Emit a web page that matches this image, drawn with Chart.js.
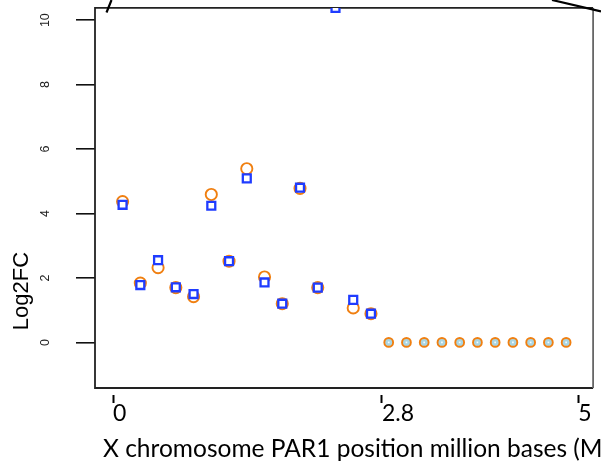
<!DOCTYPE html>
<html>
<head>
<meta charset="utf-8">
<script src="https://cdn.jsdelivr.net/npm/chart.js@4/dist/chart.umd.min.js"></script>
<style>
  html, body { margin: 0; padding: 0; background: #fff; }
  #wrap { width: 601px; height: 466px; }
</style>
</head>
<body>
<div id="wrap"><canvas id="fc-chart" width="601" height="466"></canvas></div>
<script>
// sample positions along PAR1 (plotted by order)
const xIndex = [1, 2, 3, 4, 5, 6, 7, 8, 9, 10, 11, 12, 13, 14, 15, 16, 17, 18, 19, 20, 21, 22, 23, 24, 25, 26];
const orangeFC = [4.37, 1.84, 2.32, 1.70, 1.42, 4.59, 2.52, 5.39, 2.03, 1.20, 4.78, 1.70, 11.5, 1.07, 0.89,
                  0, 0, 0, 0, 0, 0, 0, 0, 0, 0, 0];
const blueFC = [4.27, 1.78, 2.55, 1.71, 1.50, 4.24, 2.52, 5.09, 1.86, 1.20, 4.80, 1.70, 10.38, 1.32, 0.89,
                0, 0, 0, 0, 0, 0, 0, 0, 0, 0, 0];
const yTicks = [0, 2, 4, 6, 8, 10];
const xTickValues = [0.46, 15.62, 26.68];
const xTickLabels = ['0', '2.8', '5'];

const orange = '#f07f10';
const blue = '#1f3cff';

function toPoints(xs, ys) {
    var pts = [];
    for (let i = 0; i < xs.length; i++) {
        pts.push({ x: xs[i], y: ys[i] });
    }
    return pts;
}

function noPadding(s) {
    s.paddingTop = 0;
    s.paddingBottom = 0;
    s.paddingLeft = 0;
    s.paddingRight = 0;
}

// frame, overlay strokes and hand-placed titles
const overlay = {
    id: 'overlay',
    beforeDatasetsDraw(chart) {
        const { ctx, chartArea: a } = chart;
        ctx.save();
        ctx.lineWidth = 1.8;
        ctx.strokeStyle = '#222';
        ctx.beginPath();
        ctx.moveTo(a.right, a.top);
        ctx.lineTo(a.left, a.top);
        ctx.lineTo(a.left, a.bottom);
        ctx.lineTo(a.right, a.bottom);
        ctx.stroke();
        ctx.strokeStyle = '#666';
        ctx.beginPath();
        ctx.moveTo(a.right, a.top);
        ctx.lineTo(a.right, a.bottom);
        ctx.stroke();
        ctx.restore();
    },
    afterDraw(chart) {
        const ctx = chart.ctx;
        ctx.save();
        ctx.strokeStyle = '#000';
        ctx.lineWidth = 2.2;
        ctx.beginPath();
        ctx.moveTo(106.5, 12.5);
        ctx.lineTo(111.5, 0);
        ctx.moveTo(552, 0);
        ctx.lineTo(601, 11.5);
        ctx.stroke();

        ctx.fillStyle = '#000';
        ctx.font = '24.5px Lato';
        ctx.textAlign = 'left';
        ctx.textBaseline = 'alphabetic';
        ctx.fillText('X chromosome PAR1 position million bases (Mb)', 103, 457);

        ctx.translate(28, 291);
        ctx.rotate(-Math.PI / 2);
        ctx.font = '22px "Liberation Sans"';
        ctx.textAlign = 'center';
        ctx.fillText('Log2FC', 0, 0);
        ctx.restore();
    }
};

new Chart(document.getElementById('fc-chart'), {
    type: 'scatter',
    data: {
        datasets: [{
            label: 'orange',
            data: toPoints(xIndex, orangeFC),
            order: 2,
            pointStyle: 'circle',
            pointRadius: orangeFC.map(v => v === 0 ? 4.4 : 5.6),
            borderWidth: 1.9,
            borderColor: orange,
            backgroundColor: orangeFC.map(v => v === 0 ? '#a9d5e2' : 'rgba(0,0,0,0)')
        }, {
            label: 'blue',
            data: toPoints(xIndex, blueFC),
            order: 1,
            pointStyle: 'rect',
            pointRadius: blueFC.map(v => v === 0 ? 1.2 : 5.6),
            borderWidth: blueFC.map(v => v === 0 ? 0 : 2.3),
            borderColor: blue,
            backgroundColor: blueFC.map(v => v === 0 ? '#f4fbff' : '#ffffff')
        }]
    },
    options: {
        responsive: false,
        animation: false,
        layout: { padding: { top: 4.5, right: 6, left: 0, bottom: 0 } },
        scales: {
            x: {
                type: 'linear',
                min: -0.555,
                max: 27.52,
                afterBuildTicks: (s) => { s.ticks = xTickValues.map(v => ({ value: v })); },
                afterFit: (s) => { s.height = 78; noPadding(s); },
                grid: {
                    drawOnChartArea: false,
                    drawTicks: true,
                    tickLength: 15,
                    tickColor: '#000',
                    tickWidth: 2,
                    tickBorderDash: [0, 7, 8, 100]
                },
                border: { display: false },
                ticks: {
                    align: 'start',
                    padding: -3,
                    color: '#000',
                    font: { family: 'Lato', size: 23 },
                    maxRotation: 0,
                    callback: (v, i) => xTickLabels[i]
                }
            },
            y: {
                min: -1.415,
                max: 10.38,
                afterBuildTicks: (s) => { s.ticks = yTicks.map(v => ({ value: v })); },
                afterFit: (s) => { s.width = 95; noPadding(s); },
                grid: {
                    drawOnChartArea: false,
                    drawTicks: true,
                    tickLength: 19,
                    color: '#111',
                    lineWidth: 1.6
                },
                border: { display: false },
                ticks: {
                    minRotation: 90,
                    maxRotation: 90,
                    crossAlign: 'center',
                    padding: 24,
                    color: '#222',
                    font: { family: 'Liberation Sans', size: 12.5 }
                }
            }
        },
        plugins: {
            legend: { display: false },
            tooltip: { enabled: false }
        }
    },
    plugins: [overlay]
});
</script>
</body>
</html>
